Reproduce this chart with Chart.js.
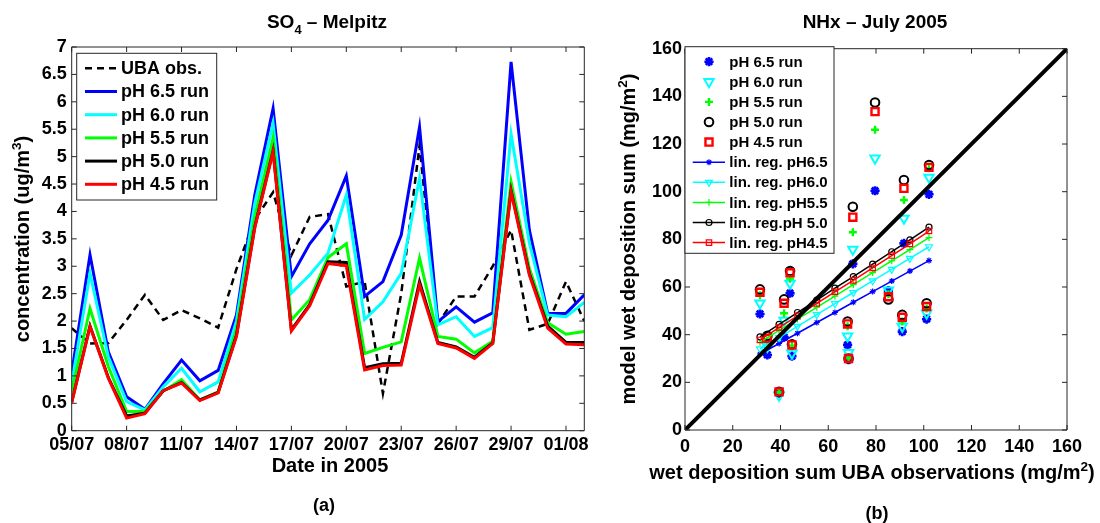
<!DOCTYPE html>
<html><head><meta charset="utf-8">
<script src="https://cdn.jsdelivr.net/npm/chart.js@4/dist/chart.umd.min.js"></script>
<style>
html,body{margin:0;padding:0;background:#fff;}
#wrap{position:relative;width:1100px;height:523px;overflow:hidden;background:#fff;}
canvas{position:absolute;top:0;}
</style></head><body>
<div id="wrap">
<canvas id="c1" width="600" height="523" style="left:0px"></canvas>
<canvas id="c2" width="500" height="523" style="left:600px"></canvas>
</div>
<script>
// ---------- (a) SO4 - Melpitz ----------
const days = [5,6,7,8,9,10,11,12,13,14,15,16,17,18,19,20,21,22,23,24,25,26,27,28,29,30,31,32,33];
const tickDays = [5,8,11,14,17,20,23,26,29,32];
const tickLabels = ['05/07','08/07','11/07','14/07','17/07','20/07','23/07','26/07','29/07','01/08'];
const ubaObs = [1.87,1.59,1.60,2.02,2.48,2.02,2.20,2.05,1.88,2.95,3.85,4.35,3.20,3.90,3.95,2.63,2.72,0.68,2.50,5.20,1.95,2.45,2.45,3.00,3.66,1.84,1.95,2.72,2.00];
const runPH65 = [1.05,3.21,1.44,0.62,0.39,0.86,1.29,0.91,1.10,2.11,4.30,5.88,2.81,3.41,3.84,4.65,2.45,2.72,3.57,5.54,1.99,2.26,1.98,2.15,6.73,3.66,2.14,2.14,2.48];
const runPH60 = [0.86,2.87,1.35,0.53,0.38,0.80,1.14,0.71,0.89,2.00,4.15,5.61,2.51,2.84,3.24,4.30,2.03,2.35,2.87,4.61,1.93,2.08,1.72,1.88,5.41,3.42,2.11,2.08,2.34];
const runPH55 = [0.71,2.23,1.17,0.35,0.35,0.72,0.93,0.56,0.71,1.85,3.90,5.34,2.02,2.39,3.16,3.41,1.41,1.52,1.62,3.15,1.72,1.67,1.42,1.63,4.54,2.96,1.97,1.76,1.81];
const runPH50 = [0.52,1.91,0.97,0.27,0.32,0.73,0.88,0.56,0.70,1.74,3.72,5.11,1.84,2.30,3.08,3.07,1.15,1.22,1.23,2.72,1.61,1.53,1.34,1.60,4.38,2.87,1.91,1.61,1.61];
const runPH45 = [0.51,1.90,0.96,0.23,0.31,0.73,0.87,0.55,0.69,1.72,3.70,5.09,1.82,2.28,3.05,3.01,1.11,1.19,1.20,2.66,1.59,1.51,1.32,1.59,4.36,2.84,1.87,1.58,1.57];

// ---------- (b) NHx - July 2005 ----------
const obsSum  = [31.4,34.5,39.4,41.5,44.0,44.8,68.1,68.5,70.3,79.6,85.2,91.0,91.7,101.2,102.2];
const modPH65 = [48.7,31.5,15.5,39.0,57.4,31.0,35.7,29.5,69.7,100.4,58.5,41.3,78.3,46.5,98.9];
const modPH60 = [53.2,35.0,14.5,46.0,61.5,32.2,39.4,32.4,75.8,114.0,58.7,43.4,88.8,49.0,106.0];
const modPH55 = [56.5,37.5,16.0,49.0,63.5,35.4,43.5,30.1,83.0,126.0,57.0,45.5,96.5,51.0,109.8];
const modPH50 = [59.0,39.5,16.0,54.8,66.7,36.0,45.5,30.0,93.7,137.4,54.8,48.3,104.9,53.2,111.2];
const modPH45 = [57.8,38.5,16.0,53.2,66.0,35.7,44.5,30.0,89.3,133.6,55.9,47.3,101.4,51.8,110.2];
const regX    = [31.4,39.4,47.1,55.2,62.8,70.5,78.6,86.6,94.2,102.2];
const regPH65 = [31.9,36.3,40.6,45.1,49.3,53.6,58.1,62.5,66.7,71.1];
const regPH60 = [34.0,38.8,43.5,48.4,53.0,57.7,62.6,67.4,72.0,76.9];
const regPH55 = [36.8,41.8,46.5,51.5,56.2,61.0,66.0,71.0,75.7,80.7];
const regPH50 = [39.1,44.3,49.3,54.5,59.5,64.4,69.6,74.8,79.8,85.1];
const regPH45 = [37.8,43.0,47.9,53.1,58.0,62.8,68.0,73.2,78.1,83.5];
const oneToOne = [0,160];

const FONT = '"Liberation Sans", Arial, Helvetica, sans-serif';
Chart.defaults.font.family = FONT;
Chart.defaults.font.weight = 'bold';
Chart.defaults.font.size = 18;
Chart.defaults.color = '#000';

const BLUE='#0000ff', CYAN='#00ffff', GREEN='#00ff00', BLACK='#000000', RED='#ff0000';

function drawRich(ctx, parts, x, y, size, rot) {
  ctx.save();
  ctx.translate(x, y);
  if (rot) ctx.rotate(rot);
  let total = 0;
  const items = parts.map(p => {
    const s = (p.sub || p.sup) ? size * 0.68 : size;
    ctx.font = 'bold ' + s + 'px ' + FONT;
    const w = ctx.measureText(p.t).width;
    total += w;
    return {t: p.t, s: s, w: w, dy: p.sub ? size * 0.3 : (p.sup ? -size * 0.42 : 0)};
  });
  let cx = -total / 2;
  ctx.textAlign = 'left'; ctx.textBaseline = 'alphabetic'; ctx.fillStyle = '#000';
  items.forEach(it => { ctx.font = 'bold ' + it.s + 'px ' + FONT; ctx.fillText(it.t, cx, it.dy); cx += it.w; });
  ctx.restore();
}

const framePlugin = {
  id: 'frame',
  afterDatasetsDraw(chart, args, opts) {
    const ctx = chart.ctx, a = chart.chartArea, sx = chart.scales.x, sy = chart.scales.y;
    const L = opts.tick || 5;
    ctx.save();
    ctx.strokeStyle = '#262626'; ctx.lineWidth = 1;
    ctx.beginPath();
    ctx.rect(a.left, a.top, a.right - a.left, a.bottom - a.top);
    sx.ticks.forEach(t => {
      const px = sx.getPixelForValue(t.value);
      ctx.moveTo(px, a.bottom); ctx.lineTo(px, a.bottom - L);
      ctx.moveTo(px, a.top); ctx.lineTo(px, a.top + L);
    });
    sy.ticks.forEach(t => {
      const py = sy.getPixelForValue(t.value);
      ctx.moveTo(a.left, py); ctx.lineTo(a.left + L, py);
      ctx.moveTo(a.right, py); ctx.lineTo(a.right - L, py);
    });
    ctx.stroke();
    ctx.restore();
  },
  afterDraw(chart, args, opts) {
    const ctx = chart.ctx;
    (opts.texts || []).forEach(t => drawRich(ctx, t.parts, t.x, t.y, t.size || 18, t.rot || 0));
    const lg = opts.legend;
    if (!lg) return;
    ctx.save();
    ctx.fillStyle = '#fff'; ctx.strokeStyle = '#262626'; ctx.lineWidth = 1;
    ctx.fillRect(lg.x0, lg.y0, lg.x1 - lg.x0, lg.y1 - lg.y0);
    ctx.strokeRect(lg.x0, lg.y0, lg.x1 - lg.x0, lg.y1 - lg.y0);
    let i = 0;
    chart.data.datasets.forEach(ds => {
      if (!ds.label) return;
      const y = lg.first + i * lg.step;
      i++;
      if (ds.legendLine) {
        ctx.save();
        ctx.strokeStyle = ds.borderColor; ctx.lineWidth = ds.borderWidth;
        ctx.setLineDash(ds.borderDash || []);
        ctx.beginPath(); ctx.moveTo(lg.lx0, y); ctx.lineTo(lg.lx1, y); ctx.stroke();
        ctx.restore();
      }
      if (ds.pointRadius > 0) {
        ctx.save();
        ctx.strokeStyle = ds.pointBorderColor || ds.borderColor;
        ctx.fillStyle = ds.pointBackgroundColor || 'rgba(0,0,0,0)';
        ctx.lineWidth = ds.pointBorderWidth;
        ctx.setLineDash([]);
        Chart.helpers.drawPoint(ctx, {pointStyle: ds.pointStyle, radius: ds.pointRadius, rotation: ds.pointRotation || 0, borderWidth: ds.pointBorderWidth}, lg.mx, y);
        ctx.restore();
      }
      ctx.fillStyle = '#000';
      ctx.font = 'bold ' + lg.size + 'px ' + FONT;
      ctx.textAlign = 'left'; ctx.textBaseline = 'middle';
      ctx.fillText(ds.label, lg.tx, y + 1);
    });
    ctx.restore();
  }
};

function runLine(label, vals, color, order, extra) {
  return Object.assign({
    label: label,
    data: days.map((d, i) => ({x: d, y: vals[i]})),
    borderColor: color, backgroundColor: color, borderWidth: 3,
    pointRadius: 0, tension: 0, fill: false, order: order, legendLine: true
  }, extra || {});
}

new Chart(document.getElementById('c1'), {
  type: 'line',
  data: { datasets: [
    runLine('UBA obs.', ubaObs, BLACK, 6, {borderWidth: 2.5, borderDash: [7, 5]}),
    runLine('pH 6.5 run', runPH65, BLUE, 5),
    runLine('pH 6.0 run', runPH60, CYAN, 4),
    runLine('pH 5.5 run', runPH55, GREEN, 3),
    runLine('pH 5.0 run', runPH50, BLACK, 2),
    runLine('pH 4.5 run', runPH45, RED, 1)
  ]},
  options: {
    responsive: false, animation: false, devicePixelRatio: 1, events: [],
    layout: { padding: {left: 0, right: 15.7, top: 47, bottom: 0} },
    plugins: {
      legend: {display: false}, tooltip: {enabled: false},
      frame: {
        tick: 5,
        texts: [
          {parts: [{t: 'SO'}, {t: '4', sub: true}, {t: ' \u2013 Melpitz'}], x: 327, y: 28, size: 19},
          {parts: [{t: 'concentration (ug/m'}, {t: '3', sup: true}, {t: ')'}], x: 29, y: 239, rot: -Math.PI / 2, size: 20},
          {parts: [{t: 'Date in 2005'}], x: 330, y: 472, size: 20},
          {parts: [{t: '(a)'}], x: 324, y: 511}
        ],
        legend: {x0: 76.7, y0: 53.3, x1: 216.7, y1: 200, first: 68.3, step: 23.2, lx0: 85, lx1: 117, mx: 101, tx: 121, size: 18}
      }
    },
    scales: {
      x: {
        type: 'linear', min: 5, max: 33,
        afterBuildTicks: s => { s.ticks = tickDays.map(v => ({value: v})); },
        afterFit: s => { s.height = 92.3; },
        grid: {display: false, drawTicks: false}, border: {display: false},
        ticks: {padding: 3.5, autoSkip: false, maxRotation: 0, minRotation: 0,
          callback: v => tickLabels[tickDays.indexOf(v)], font: {size: 18, weight: 'bold'}}
      },
      y: {
        min: 0, max: 7,
        afterBuildTicks: s => { const t = []; for (let k = 0; k <= 14; k++) t.push({value: k / 2}); s.ticks = t; },
        afterFit: s => { s.width = 71.7; },
        grid: {display: false, drawTicks: false}, border: {display: false},
        ticks: {padding: 5, callback: v => String(v), font: {size: 18, weight: 'bold'}}
      }
    }
  },
  plugins: [framePlugin]
});

function pts(xs, ys) { return xs.map((x, i) => ({x: x, y: ys[i]})); }
function scat(label, ys, color, style, r, bw, rot, order, fillIt) {
  return {label: label, data: pts(obsSum, ys), showLine: false,
    borderColor: color, backgroundColor: fillIt ? color : 'rgba(0,0,0,0)',
    pointBorderColor: color, pointBackgroundColor: fillIt ? color : 'rgba(0,0,0,0)',
    pointStyle: style, pointRadius: r, pointBorderWidth: bw, pointRotation: rot || 0,
    order: order, legendLine: false};
}
function reg(label, ys, color, style, r, rot, order) {
  return {label: label, data: pts(regX, ys), showLine: true, borderWidth: 1.5,
    borderColor: color, backgroundColor: 'rgba(0,0,0,0)',
    pointBorderColor: color, pointBackgroundColor: 'rgba(0,0,0,0)',
    pointStyle: style, pointRadius: r, pointBorderWidth: 1.2, pointRotation: rot || 0,
    order: order, legendLine: true, tension: 0};
}

new Chart(document.getElementById('c2'), {
  type: 'scatter',
  data: { datasets: [
    scat('pH 6.5 run', modPH65, BLUE, 'star', 4.6, 2.6, 0, 20, true),
    scat('pH 6.0 run', modPH60, CYAN, 'triangle', 5.4, 2, 180, 19),
    scat('pH 5.5 run', modPH55, GREEN, 'cross', 4, 2.4, 0, 18),
    scat('pH 5.0 run', modPH50, BLACK, 'circle', 4.3, 2, 0, 17),
    scat('pH 4.5 run', modPH45, RED, 'rect', 5, 2.4, 0, 16),
    reg('lin. reg. pH6.5', regPH65, BLUE, 'star', 3, 0, 15),
    reg('lin. reg. pH6.0', regPH60, CYAN, 'triangle', 4, 180, 14),
    reg('lin. reg. pH5.5', regPH55, GREEN, 'cross', 3.4, 0, 13),
    reg('lin. reg.pH 5.0', regPH50, BLACK, 'circle', 3, 0, 12),
    reg('lin. reg. pH4.5', regPH45, RED, 'rect', 3.8, 0, 11),
    {label: '', data: pts(oneToOne, oneToOne), showLine: true, borderColor: BLACK, borderWidth: 4, pointRadius: 0, order: 1}
  ]},
  options: {
    responsive: false, animation: false, devicePixelRatio: 1, events: [],
    layout: { padding: {left: 0, right: 33, top: 48.7, bottom: 0} },
    plugins: {
      legend: {display: false}, tooltip: {enabled: false},
      frame: {
        tick: 5,
        texts: [
          {parts: [{t: 'NHx \u2013 July 2005'}], x: 275, y: 28, size: 19},
          {parts: [{t: 'model wet deposition sum (mg/m'}, {t: '2', sup: true}, {t: ')'}], x: 35, y: 239, rot: -Math.PI / 2, size: 20},
          {parts: [{t: 'wet deposition sum UBA observations (mg/m'}, {t: '2', sup: true}, {t: ')'}], x: 272, y: 479, size: 20},
          {parts: [{t: '(b)'}], x: 277, y: 519}
        ],
        legend: {x0: 85, y0: 46.7, x1: 234, y1: 253.3, first: 61.7, step: 20.1, lx0: 92.7, lx1: 125, mx: 109, tx: 129.3, size: 15}
      }
    },
    scales: {
      x: {
        type: 'linear', min: 0, max: 160,
        afterBuildTicks: s => { const t = []; for (let v = 0; v <= 160; v += 20) t.push({value: v}); s.ticks = t; },
        afterFit: s => { s.height = 93; },
        grid: {display: false, drawTicks: false}, border: {display: false},
        ticks: {padding: 6, autoSkip: false, maxRotation: 0, minRotation: 0, font: {size: 18, weight: 'bold'}}
      },
      y: {
        min: 0, max: 160,
        afterBuildTicks: s => { const t = []; for (let v = 0; v <= 160; v += 20) t.push({value: v}); s.ticks = t; },
        afterFit: s => { s.width = 85; },
        grid: {display: false, drawTicks: false}, border: {display: false},
        ticks: {padding: 3, font: {size: 18, weight: 'bold'}}
      }
    }
  },
  plugins: [framePlugin]
});
</script>
</body></html>
